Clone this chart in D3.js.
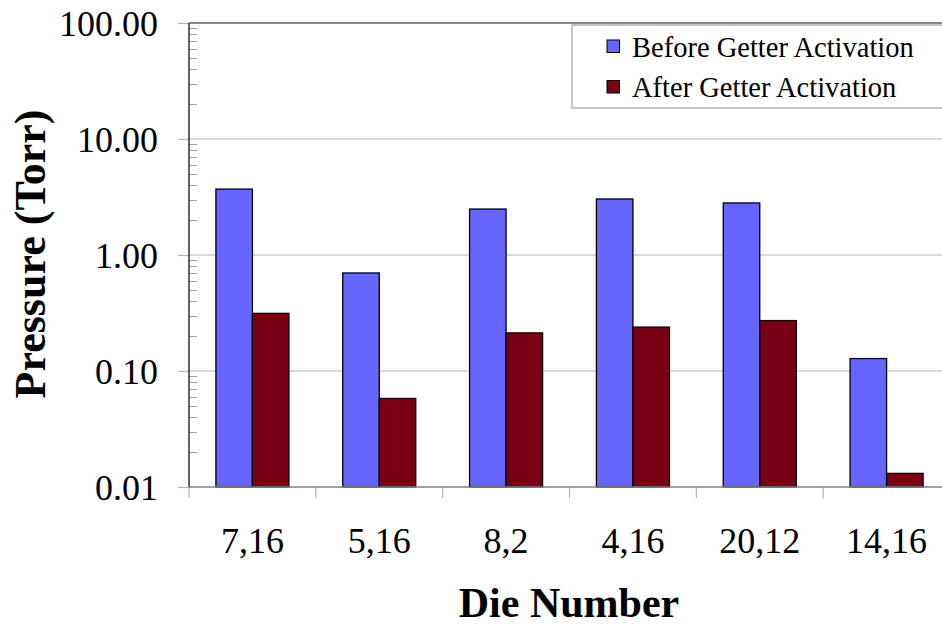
<!DOCTYPE html>
<html>
<head>
<meta charset="utf-8">
<script src="https://cdn.jsdelivr.net/npm/d3@7"></script>
<style>
  html, body { margin: 0; padding: 0; background: #fff; }
  svg { display: block; font-family: "Liberation Serif", "Times New Roman", serif; }
</style>
</head>
<body>
<svg id="chart" width="942" height="628"></svg>
<script>
// Die identifiers along the x axis
const categories = ["7,16", "5,16", "8,2", "4,16", "20,12", "14,16"];
// Pressure readings (Torr)
const beforeValues = [3.7, 0.70, 2.49, 3.04, 2.81, 0.128];
const afterValues  = [0.314, 0.058, 0.213, 0.239, 0.272, 0.0131];
const seriesNames = ["Before Getter Activation", "After Getter Activation"];
const seriesColors = ["#6666ff", "#7a0015"];
const yTickValues = [0.01, 0.1, 1, 10, 100];

const svg = d3.select("#chart");
const m = { left: 189, right: 950, top: 23, bottom: 487 };

const x = d3.scaleBand().domain(categories).range([m.left, m.right]).paddingInner(0).paddingOuter(0);
const xs = d3.scaleBand().domain(seriesNames).range([0, x.bandwidth()]).paddingInner(0).paddingOuter(0.737);
const y = d3.scaleLog().domain([0.01, 100]).range([m.bottom, m.top]);

// major gridlines
svg.append("g").selectAll("line").data(yTickValues.slice(1, 4)).join("line")
  .attr("x1", m.left).attr("x2", 942)
  .attr("y1", d => y(d)).attr("y2", d => y(d))
  .attr("stroke", "#b4b4b4").attr("stroke-width", 1.2);

// minor ticks on the inside of the value axis
const minor = [];
for (let e = -2; e < 2; e++) for (let k = 2; k <= 9; k++) minor.push(k * Math.pow(10, e));
svg.append("g").selectAll("line").data(minor).join("line")
  .attr("x1", m.left).attr("x2", m.left + 8)
  .attr("y1", d => Math.round(y(d)) + 0.5).attr("y2", d => Math.round(y(d)) + 0.5)
  .attr("stroke", "#a0a0a0").attr("stroke-width", 1);

// y axis: major ticks pointing outward, labels with two decimals
const yAxis = d3.axisLeft(y).tickValues(yTickValues).tickSize(11).tickPadding(20)
  .tickFormat(d3.format(".2f"));
const gy = svg.append("g").attr("transform", `translate(${m.left},0)`).call(yAxis);
gy.select(".domain").remove();
gy.selectAll(".tick line").attr("stroke", "#b4b4b4").attr("stroke-width", 1.2);
gy.selectAll(".tick text").attr("font-size", 36).attr("fill", "#000")
  .attr("font-family", "Liberation Serif").attr("dy", "0.34em");

// x axis: ticks at category boundaries
const boundaries = categories.map(c => x(c));
svg.append("g").selectAll("line").data(boundaries).join("line")
  .attr("x1", d => d).attr("x2", d => d)
  .attr("y1", m.bottom).attr("y2", m.bottom + 11)
  .attr("stroke", "#b4b4b4").attr("stroke-width", 1.2);
const xAxis = d3.axisBottom(x).tickSize(0).tickPadding(40);
const gx = svg.append("g").attr("transform", `translate(0,${m.bottom})`).call(xAxis);
gx.select(".domain").remove();
gx.selectAll(".tick text").attr("font-size", 36).attr("fill", "#000")
  .attr("font-family", "Liberation Serif");

// bars
const rows = categories.map((c, i) => ({ c, vals: [beforeValues[i], afterValues[i]] }));
const groups = svg.append("g").selectAll("g").data(rows).join("g")
  .attr("transform", d => `translate(${x(d.c)},0)`);
groups.selectAll("rect").data(d => d.vals.map((v, j) => ({ v, s: seriesNames[j], j }))).join("rect")
  .attr("x", d => xs(d.s)).attr("width", xs.bandwidth())
  .attr("y", d => y(d.v)).attr("height", d => m.bottom - y(d.v))
  .attr("fill", d => seriesColors[d.j]).attr("stroke", "#000").attr("stroke-width", 1.3);

// frame lines
svg.append("line").attr("x1", m.left).attr("x2", 942).attr("y1", m.top).attr("y2", m.top)
  .attr("stroke", "#606060").attr("stroke-width", 1.5);
svg.append("line").attr("x1", m.left).attr("x2", 942).attr("y1", m.bottom).attr("y2", m.bottom)
  .attr("stroke", "#808080").attr("stroke-width", 1.5);
svg.append("line").attr("x1", m.left).attr("x2", m.left).attr("y1", m.top).attr("y2", m.bottom)
  .attr("stroke", "#303030").attr("stroke-width", 1.5);

// axis titles
svg.append("text").attr("x", 569).attr("y", 617).attr("text-anchor", "middle")
  .attr("font-size", 42).attr("font-weight", "bold").text("Die Number");
svg.append("text").attr("transform", "translate(45,254) rotate(-90)").attr("text-anchor", "middle")
  .attr("font-size", 44).attr("font-weight", "bold").text("Pressure (Torr)");

// legend
const lg = svg.append("g");
lg.append("rect").attr("x", 572).attr("y", 25).attr("width", 380).attr("height", 83)
  .attr("fill", "#fff").attr("stroke", "#a0a0a0").attr("stroke-width", 1.2);
seriesNames.forEach((name, i) => {
  const yy = 40 + i * 40.5;
  lg.append("rect").attr("x", 607).attr("y", yy).attr("width", 12.5).attr("height", 12.5)
    .attr("fill", seriesColors[i]).attr("stroke", "#000").attr("stroke-width", 1);
  lg.append("text").attr("x", 632).attr("y", yy + 16.5).attr("font-size", 28.5).text(name);
});
</script>
</body>
</html>
